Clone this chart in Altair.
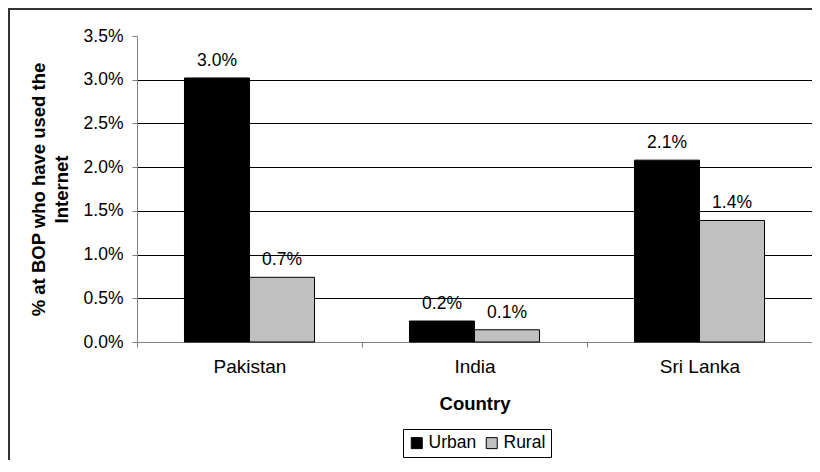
import altair as alt
import pandas as pd

countries = ["Pakistan", "India", "Sri Lanka"]
series = ["Urban", "Rural"]
urban = [0.0302, 0.0024, 0.0208]
rural = [0.0074, 0.0014, 0.0139]
y_ticks = [0.0, 0.005, 0.01, 0.015, 0.02, 0.025, 0.03, 0.035]

rows = []
for c, u, r in zip(countries, urban, rural):
    rows.append({"Country": c, "Area": "Urban", "Value": u})
    rows.append({"Country": c, "Area": "Rural", "Value": r})
df = pd.DataFrame(rows)

FONT = "Liberation Sans"
W, H = 675, 306

x = alt.X(
    "Country:N",
    sort=countries,
    scale=alt.Scale(paddingInner=0, paddingOuter=0),
    axis=alt.Axis(
        title="Country",
        titleFont=FONT,
        titleFontSize=18.5,
        titleFontWeight="bold",
        titleColor="black",
        titleY=67,
        titleBaseline="alphabetic",
        labelFont=FONT,
        labelFontSize=19,
        labelColor="black",
        labelPadding=10,
        labelAngle=0,
        tickBand="extent",
        tickSize=5,
        tickColor="#808080",
        domainColor="#808080",
        grid=False,
    ),
)
xo = alt.XOffset(
    "Area:N", sort=series, scale=alt.Scale(paddingInner=0, paddingOuter=0.73)
)
y = alt.Y(
    "Value:Q",
    scale=alt.Scale(domain=[0, 0.035], nice=False),
    axis=alt.Axis(
        title=["% at BOP who have used the", "Internet"],
        titleFont=FONT,
        titleFontSize=18.5,
        titleFontWeight="bold",
        titleColor="black",
        titleLineHeight=23,
        titleX=-99,
        titleY=H / 2,
        titleAngle=270,
        titleAlign="center",
        titleBaseline="middle",
        values=y_ticks,
        format=".1%",
        labelFont=FONT,
        labelFontSize=17.5,
        labelColor="black",
        labelPadding=9,
        tickSize=5,
        tickColor="#808080",
        domainColor="#808080",
        gridColor="#000000",
        gridOpacity={
            "condition": {"test": "datum.value < 0.001 || datum.value > 0.034", "value": 0},
            "value": 1,
        },
    ),
)

color = alt.Color(
    "Area:N",
    sort=series,
    scale=alt.Scale(domain=series, range=["#000000", "#C0C0C0"]),
    legend=alt.Legend(
        title=None,
        orient="none",
        legendX=266,
        legendY=393,
        direction="horizontal",
        strokeColor="black",
        fillColor="white",
        padding=5,
        symbolType="square",
        symbolSize=121,
        symbolStrokeColor="black",
        symbolStrokeWidth=1,
        labelFont=FONT,
        labelFontSize=17.5,
        labelColor="black",
        labelOffset=3,
        columnPadding=6,
    ),
)

bars = alt.Chart(df).mark_bar(stroke="black", strokeWidth=1).encode(
    x=x, xOffset=xo, y=y, color=color
)

labels = alt.Chart(df).mark_text(
    font=FONT, fontSize=17.5, color="black", baseline="alphabetic", dy=-12
).encode(
    x=alt.X("Country:N", sort=countries),
    xOffset=alt.XOffset("Area:N", sort=series),
    y="Value:Q",
    text=alt.Text("Value:Q", format=".1%"),
)

frame = pd.DataFrame({"k": [0]})
top_border = alt.Chart(frame).mark_rule(color="#333333", strokeWidth=2).encode(
    x=alt.value(-129), x2=alt.value(W), y=alt.value(-27)
)
left_border = alt.Chart(frame).mark_rule(color="#333333", strokeWidth=2).encode(
    x=alt.value(-128), y=alt.value(-28), y2=alt.value(H + 118)
)

chart = (
    alt.layer(bars, labels, top_border, left_border)
    .properties(
        width=W,
        height=H,
        autosize=alt.AutoSizeParams(type="none"),
        padding={"left": 129, "top": 28, "right": 0, "bottom": 118},
        background="white",
    )
    .configure_view(stroke=None)
)

chart.save("out.html", embed_options={"renderer": "svg", "actions": False})
